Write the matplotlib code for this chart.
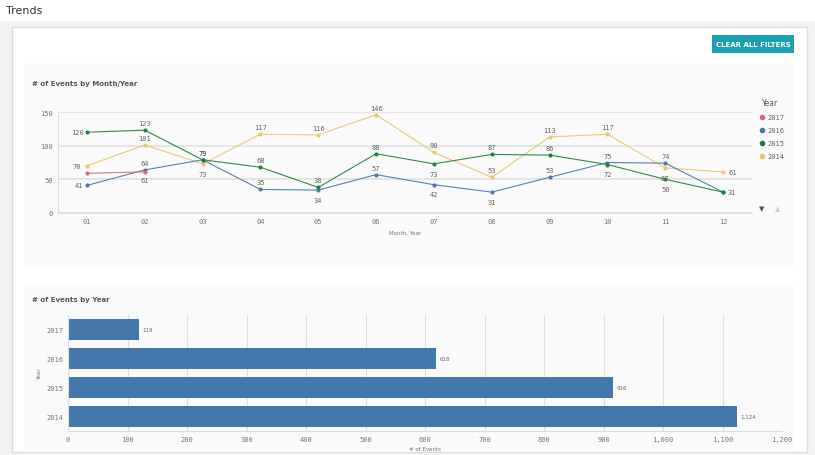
import matplotlib.pyplot as plt
from matplotlib.patches import Rectangle

months = ['01','02','03','04','05','06','07','08','09','10','11','12']
s2017 = [59, 61]
s2016 = [41, 64, 79, 35, 34, 57, 42, 31, 53, 75, 74, 31]
s2015 = [120, 123, 79, 68, 38, 88, 73, 87, 86, 72, 50, 31]
s2014 = [70, 101, 73, 117, 116, 146, 90, 53, 113, 117, 67, 61]
years = ['2017', '2016', '2015', '2014']
totals = [119, 618, 916, 1124]
colors = {'2017': '#d9667a', '2016': '#4477aa', '2015': '#1a7f37', '2014': '#e8c86a'}

fig = plt.figure(figsize=(8.15, 4.56), dpi=100)
fig.patch.set_facecolor('#f2f2f2')
W, H = 815, 456
def R(x, y, w, h, **kw):
    fig.patches.append(Rectangle((x/W, 1-(y+h)/H), w/W, h/H, transform=fig.transFigure, zorder=-5, **kw))
R(0, 0, 815, 22, facecolor='white', edgecolor='none')
fig.text(6/W, 1-11/H, 'Trends', fontsize=8, va='center', color='#333')
R(12, 28, 795, 425, facecolor='white', edgecolor='#dddddd')
R(24, 64, 770, 204, facecolor='#fafafa', edgecolor='none')
R(24, 286, 770, 165, facecolor='#fafafa', edgecolor='none')
R(712, 36, 82, 18, facecolor='#1aa0b0', edgecolor='none')
fig.text(753/W, 1-45/H, 'CLEAR ALL FILTERS', fontsize=5, color='white', ha='center', va='center', weight='bold')
fig.text(32/W, 1-84/H, '# of Events by Month/Year', fontsize=5, color='#555', va='center', weight='bold')
fig.text(32/W, 1-300/H, '# of Events by Year', fontsize=5, color='#555', va='center', weight='bold')

fs = 5
mono = 'DejaVu Sans Mono'
ax = fig.add_axes([58/W, 1-214/H, (752-58)/W, (214-113)/H])
ax.set_facecolor('none')
x = list(range(12))
for name, ys in [('2014', s2014), ('2016', s2016), ('2015', s2015), ('2017', s2017)]:
    ax.plot(x[:len(ys)], ys, color=colors[name], lw=0.8, marker='o', ms=2, alpha=0.9)

def put(i, v, dx, dy):
    ax.annotate(str(v), (i, v), xytext=(dx, dy), textcoords='offset points',
                ha='center', va='center', fontsize=fs, color='#666', family=mono)

for i, v in enumerate(s2016):
    put(i, v, -6 if i == 0 else (6 if i == 11 else 0), 0 if i in (0, 11) else (-7 if i in {4, 6, 7} else 5))
for i, v in enumerate(s2015):
    if i == 11: continue
    if i == 0: put(i, v, -7, 0); continue
    put(i, v, 0, -7 if i in {6, 9, 10} else 5)
for i, v in enumerate(s2014):
    if i == 0: put(i, v, -7, 0); continue
    if i == 11: put(i, v, 7, 0); continue
    put(i, v, 0, -7 if i in {2, 10} else 5)
put(1, s2017[1], 0, -6)

ax.set_ylim(0, 150)
ax.set_xlim(-0.5, 11.5)
ax.set_yticks([0, 50, 100, 150])
ax.set_xticks(x, months)
ax.tick_params(labelsize=fs, colors='#777', length=0)
for l in ax.get_xticklabels() + ax.get_yticklabels():
    l.set_family(mono)
ax.grid(axis='y', color='#e6e6e6', lw=1.5)
for s in ['top', 'right']:
    ax.spines[s].set_visible(False)
ax.spines['left'].set_color('#dddddd'); ax.spines['bottom'].set_color('#dddddd')
ax.set_xlabel('Month, Year', fontsize=4, color='#777', labelpad=4)
fig.text(762/W, 1-104/H, 'Year', fontsize=5.5, color='#555', va='center')
for k, name in enumerate(years):
    yy = 1-(118+k*13)/H
    fig.lines.append(plt.Line2D([762/W], [yy], transform=fig.transFigure, color=colors[name], marker='o', ms=3, lw=0))
    fig.text(767/W, yy, name, fontsize=5, color='#666', va='center', family=mono)
fig.text(762/W, 1-209/H, '▼', fontsize=5, color='#555', ha='center', va='center')
fig.text(778/W, 1-209/H, '▲', fontsize=5, color='#ccc', ha='center', va='center')

bx = fig.add_axes([68/W, 1-432/H, (782-68)/W, (432-316)/H])
bx.set_facecolor('none')
yp = list(range(len(years)))
bx.barh(yp, totals, height=0.72, color='#4477aa')
for i, v in enumerate(totals):
    bx.text(v + 6, i, f'{v:,}', fontsize=4, color='#666', va='center')
bx.set_yticks(yp, years)
bx.set_ylim(3.5, -0.5)
bx.set_xlim(0, 1200)
bx.set_xticks(range(0, 1201, 100), [f'{t:,}' for t in range(0, 1201, 100)])
bx.tick_params(labelsize=fs, colors='#777', length=0)
for l in bx.get_xticklabels() + bx.get_yticklabels():
    l.set_family(mono)
bx.grid(axis='x', color='#dddddd', lw=0.8)
bx.set_axisbelow(True)
for s in ['top', 'right']:
    bx.spines[s].set_visible(False)
bx.spines['left'].set_color('#dddddd'); bx.spines['bottom'].set_color('#dddddd')
bx.set_xlabel('# of Events', fontsize=4, color='#777', labelpad=3)
bx.set_ylabel('Year', fontsize=4, color='#777', labelpad=3)
fig.savefig('out.png', dpi=100, facecolor=fig.get_facecolor())
